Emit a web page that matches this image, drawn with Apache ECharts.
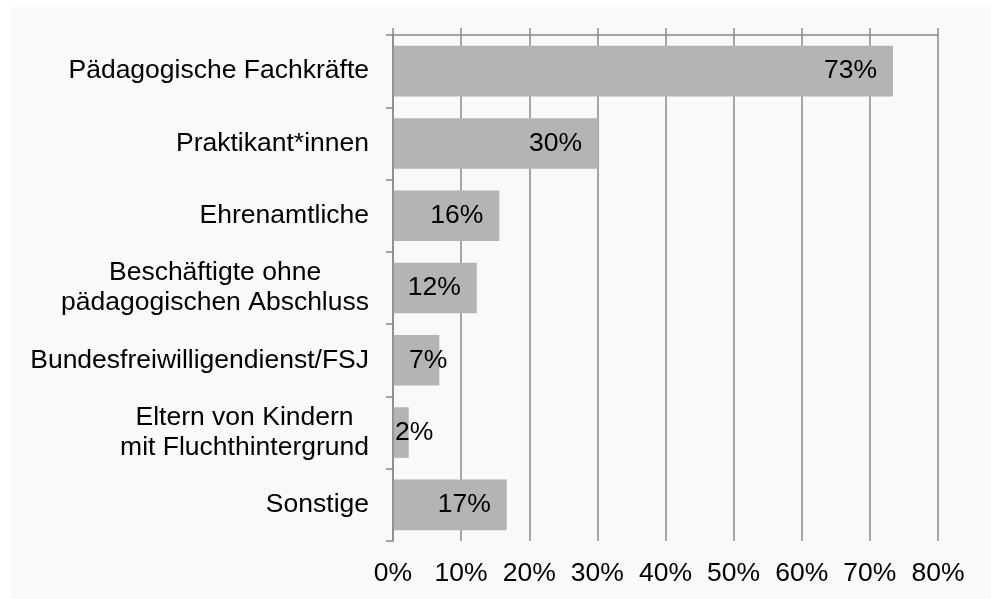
<!DOCTYPE html>
<html>
<head>
<meta charset="utf-8">
<script src="https://cdn.jsdelivr.net/npm/echarts@6/dist/echarts.min.js"></script>
<style>
  html, body { margin: 0; padding: 0; background: #fff; }
  #chart { width: 991px; height: 599px; }
</style>
</head>
<body>
<div id="chart"></div>
<script>
'use strict';

// groups of helpers, from top to bottom of the chart
var categories = [
   'Pädagogische Fachkräfte',
   'Praktikant*innen',
   'Ehrenamtliche',
   'Beschäftigte ohne\npädagogischen Abschluss',
   'Bundesfreiwilligendienst/FSJ',
   'Eltern von Kindern\nmit Fluchthintergrund',
   'Sonstige'
];
var shares = [73.4, 30.1, 15.6, 12.3, 6.8, 2.3, 16.7];
var shareLabels = ['73%', '30%', '16%', '12%', '7%', '2%', '17%'];
var tickValues = [0, 10, 20, 30, 40, 50, 60, 70, 80];

(function () {
   var font = '"Liberation Sans", Arial, sans-serif';
   var fontSize = 26.5;
   var lineColor = '#8a8a8a';
   var chart = echarts.init(document.getElementById('chart'));

   // short bars get their label from the left side, like in the original
   var barData = shares.map(function (v, i) {
      var label = { formatter: shareLabels[i] };
      if (v < 5) {
         label.position = 'insideLeft';
         label.distance = 2;
      } else if (v < 10) {
         label.position = 'insideLeft';
         label.distance = 16;
      }
      return { value: v, label: label };
   });

   var option = {
      backgroundColor: '#ffffff',
      animation: false,
      graphic: [{
         type: 'rect',
         z: -10,
         shape: { x: 11, y: 7, width: 980, height: 592 },
         style: { fill: '#f9f9f9' }
      }],
      grid: { left: 393, right: 53, top: 35, bottom: 58 },
      xAxis: [{
         type: 'value',
         position: 'top',
         min: tickValues[0],
         max: tickValues[tickValues.length - 1],
         interval: 10,
         axisLine: { show: true, lineStyle: { color: lineColor, width: 1.5 } },
         axisTick: { show: true, length: 7, lineStyle: { color: lineColor, width: 1.5 } },
         axisLabel: { show: false },
         splitLine: { show: false }
      }, {
         type: 'value',
         position: 'bottom',
         min: tickValues[0],
         max: tickValues[tickValues.length - 1],
         interval: 10,
         axisLine: { show: false },
         axisTick: { show: false },
         axisLabel: {
            formatter: '{value}%',
            color: '#000',
            fontFamily: font,
            fontSize: fontSize,
            margin: 19
         },
         splitLine: { show: true, lineStyle: { color: lineColor, width: 1.5 } }
      }],
      yAxis: {
         type: 'category',
         inverse: true,
         data: categories,
         z: 5,
         axisLine: { show: true, lineStyle: { color: lineColor, width: 1.5 } },
         axisTick: { show: true, length: 7, lineStyle: { color: lineColor, width: 1.5 } },
         axisLabel: {
            margin: 24,
            formatter: function (val) {
               return val.split('\n').map(function (s) {
                  return '{c|' + s + '}';
               }).join('\n');
            },
            rich: {
               c: {
                  align: 'center',
                  color: '#000',
                  fontFamily: font,
                  fontSize: fontSize,
                  lineHeight: 30
               }
            }
         }
      },
      series: [{
         type: 'bar',
         xAxisIndex: 1,
         data: barData,
         barCategoryGap: '30%',
         itemStyle: { color: '#b4b4b4' },
         label: {
            show: true,
            position: 'insideRight',
            distance: 16,
            color: '#000',
            fontFamily: font,
            fontSize: fontSize
         }
      }]
   };

   chart.setOption(option);
})();
</script>
</body>
</html>
